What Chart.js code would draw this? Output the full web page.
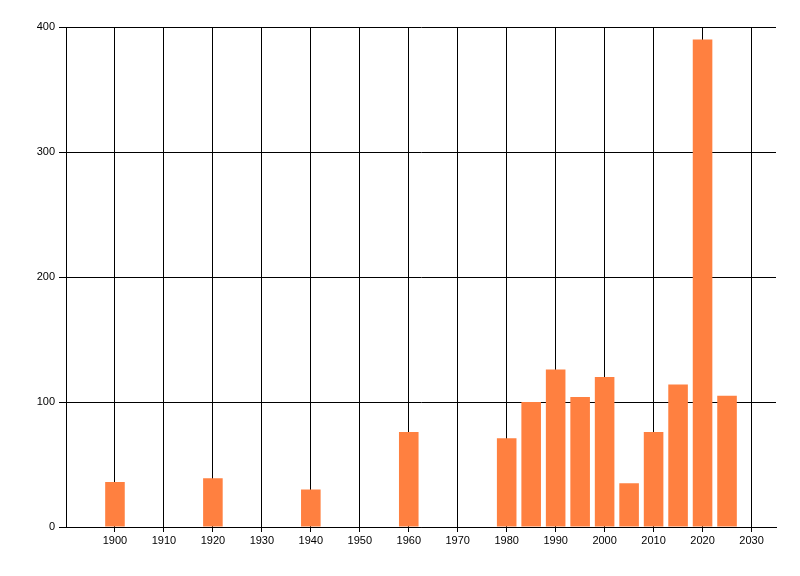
<!DOCTYPE html>
<html>
<head>
<meta charset="utf-8">
<script src="https://cdn.jsdelivr.net/npm/chart.js@4/dist/chart.umd.min.js"></script>
<style>
  html, body { margin: 0; padding: 0; background: #fff; }
  #wrap { width: 800px; height: 576px; }
</style>
</head>
<body>
<div id="wrap"><canvas id="chart" width="800" height="576"></canvas></div>
<script>
// data
const years = [1900, 1920, 1940, 1960, 1980, 1985, 1990, 1995, 2000, 2005, 2010, 2015, 2020, 2025];
const counts = [36, 39, 30, 76, 71, 100, 126, 104, 120, 35, 76, 114, 390, 105];
const xTickLabels = [1900, 1910, 1920, 1930, 1940, 1950, 1960, 1970, 1980, 1990, 2000, 2010, 2020, 2030];
const yTickLabels = [0, 100, 200, 300, 400];

const tickFont = { family: '"Liberation Sans", Arial, sans-serif', size: 11 };

new Chart(document.getElementById('chart'), {
    type: 'bar',
    data: {
        datasets: [{
            data: years.map((y, i) => ({ x: y, y: counts[i] })),
            backgroundColor: 'rgb(255, 128, 64)',
            borderWidth: 0,
            barPercentage: 0.8,
            categoryPercentage: 1.0
        }]
    },
    options: {
        responsive: false,
        animation: false,
        devicePixelRatio: 1,
        layout: { padding: { left: 0, top: 27, right: 24, bottom: 0 } },
        plugins: {
            legend: { display: false },
            tooltip: { enabled: false }
        },
        scales: {
            x: {
                type: 'linear',
                min: 1890,
                max: 2035,
                offset: false,
                afterBuildTicks: (scale) => {
                    scale.ticks = xTickLabels.map(v => ({ value: v }));
                },
                afterFit: (scale) => { scale.height = 49; },
                grid: {
                    offset: false,
                    color: '#000',
                    lineWidth: 1,
                    tickLength: 5,
                    tickColor: '#000'
                },
                border: { color: '#000', width: 1 },
                ticks: {
                    color: '#000',
                    font: tickFont,
                    padding: 2,
                    maxRotation: 0,
                    autoSkip: false,
                    callback: (v) => String(v)
                }
            },
            y: {
                min: 0,
                max: 400,
                afterBuildTicks: (scale) => {
                    scale.ticks = yTickLabels.map(v => ({ value: v }));
                },
                afterFit: (scale) => { scale.width = 66; },
                grid: {
                    color: '#000',
                    lineWidth: 1,
                    tickLength: 7,
                    tickColor: '#000'
                },
                border: { color: '#000', width: 1 },
                ticks: {
                    color: '#000',
                    font: tickFont,
                    padding: 4
                }
            }
        }
    }
});
</script>
</body>
</html>
